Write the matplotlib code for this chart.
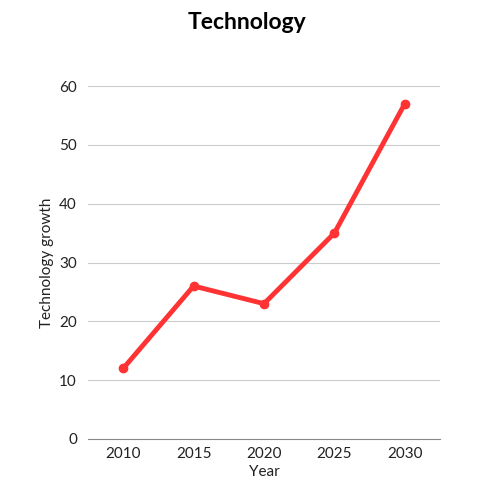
import matplotlib.pyplot as plt

years = [2010, 2015, 2020, 2025, 2030]
growth = [12, 26, 23, 35, 57]
y_ticks = [0, 10, 20, 30, 40, 50, 60]


def main():
    plt.rcParams["font.family"] = ["Lato", "DejaVu Sans"]
    fig = plt.figure(figsize=(5, 5), dpi=100)
    ax = fig.add_axes([0.176, 0.122, 0.704, 0.706])

    ax.plot(years, growth, color="#ff3333", linewidth=3.5, marker="o",
            markersize=6, zorder=3, solid_capstyle="round")

    ax.set_xlim(2007.5, 2032.5)
    ax.set_ylim(0, 60)
    ax.set_xticks(years)
    ax.set_yticks(y_ticks)
    ax.grid(axis="y", color="#cccccc", linewidth=0.8)
    ax.set_axisbelow(True)
    for side in ["left", "right", "top"]:
        ax.spines[side].set_visible(False)
    ax.spines["bottom"].set_color("#888888")
    ax.tick_params(axis="x", length=0, labelsize=11, colors="#222222", pad=6)
    ax.tick_params(axis="y", length=0, labelsize=11, colors="#222222", pad=8)

    ax.set_xlabel("Year", fontsize=11, color="#222222", labelpad=3)
    ax.set_ylabel("Technology growth", fontsize=11, color="#222222")
    fig.text(0.493, 0.955, "Technology", ha="center", va="center",
             fontsize=16.5, fontweight="bold", color="#000000")

    fig.savefig("out.png", dpi=100)


if __name__ == '__main__':
    main()
